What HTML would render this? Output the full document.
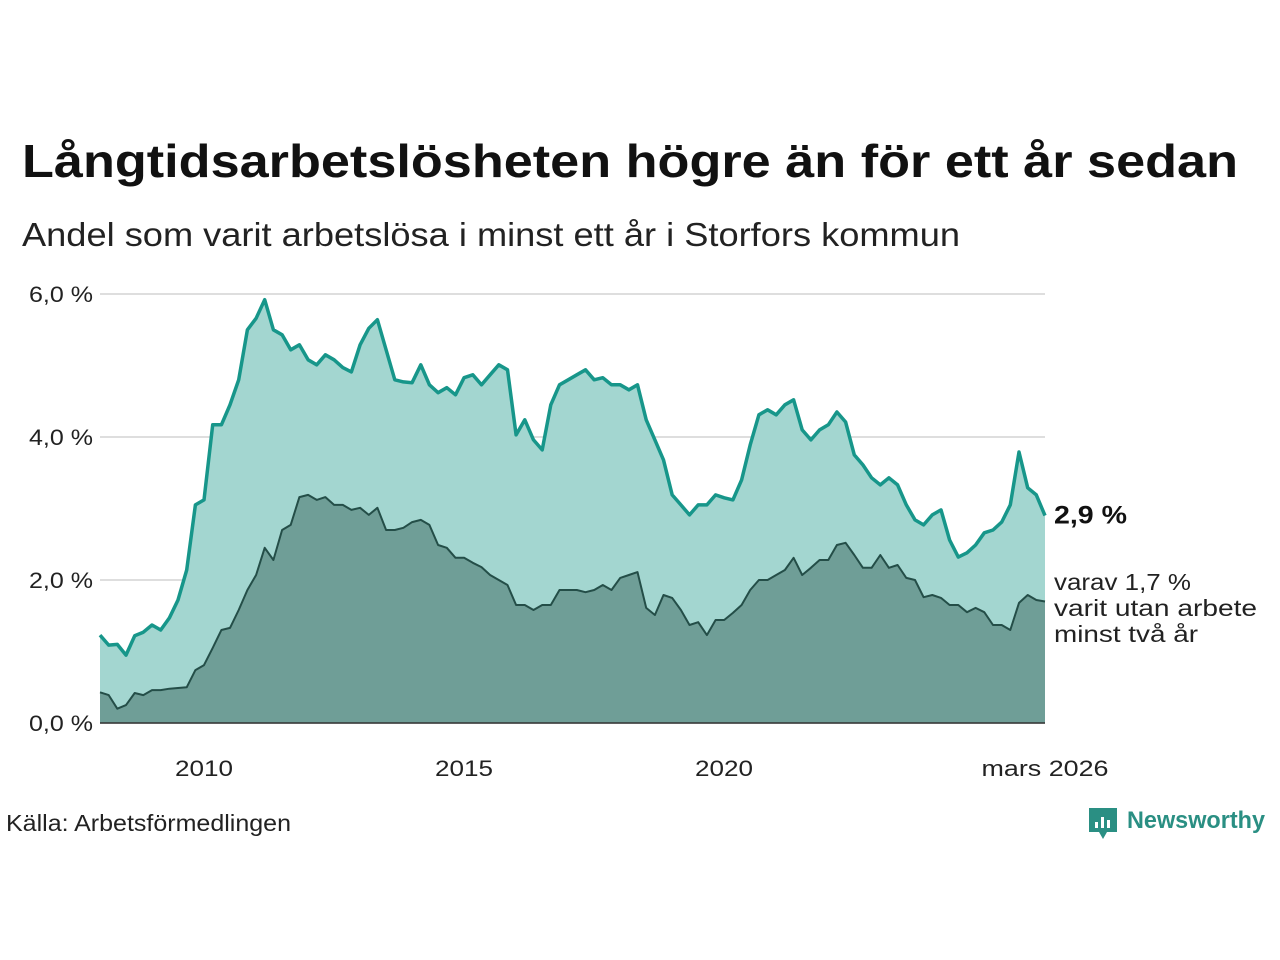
<!DOCTYPE html>
<html><head><meta charset="utf-8"><style>
body{margin:0;background:#fff;font-family:"Liberation Sans",sans-serif;}
svg{display:block}
</style></head><body>
<svg width="1280" height="960">
<text x="22" y="177" font-size="46" font-weight="bold" fill="#111" textLength="1216" lengthAdjust="spacingAndGlyphs">Långtidsarbetslösheten högre än för ett år sedan</text>
<text x="22" y="246" font-size="33" fill="#222" textLength="938" lengthAdjust="spacingAndGlyphs">Andel som varit arbetslösa i minst ett år i Storfors kommun</text>
<g id="grid"></g>
<g id="areas"></g>
<g id="labels"></g>
<text x="6" y="831" font-size="23" fill="#222" textLength="285" lengthAdjust="spacingAndGlyphs">Källa: Arbetsförmedlingen</text>
<g>
<path d="M1089 808 h28 v24 h-10 l-4 7 l-4 -7 h-10 z" fill="#2a8f83"/>
<rect x="1095" y="822" width="3" height="6" fill="#fff"/><rect x="1101" y="817" width="3" height="11" fill="#fff"/><rect x="1107" y="820" width="3" height="8" fill="#fff"/>
<text x="1127" y="828" font-size="24" font-weight="bold" fill="#2a8f83" textLength="138" lengthAdjust="spacingAndGlyphs">Newsworthy</text>
</g>
</svg>
<script>
const startYear = 2008;
const stepMonths = 2;
const total = [1.23,1.09,1.1,0.95,1.22,1.27,1.37,1.30,1.47,1.72,2.14,3.05,3.12,4.17,4.17,4.45,4.80,5.50,5.66,5.92,5.50,5.43,5.22,5.29,5.08,5.01,5.15,5.08,4.97,4.91,5.29,5.52,5.64,5.22,4.80,4.77,4.76,5.01,4.73,4.62,4.69,4.59,4.83,4.87,4.73,4.87,5.01,4.94,4.03,4.24,3.96,3.82,4.45,4.73,4.80,4.87,4.94,4.80,4.83,4.73,4.73,4.66,4.73,4.24,3.96,3.68,3.19,3.05,2.91,3.05,3.05,3.19,3.15,3.12,3.40,3.89,4.31,4.38,4.31,4.45,4.52,4.10,3.96,4.10,4.17,4.35,4.21,3.75,3.61,3.43,3.33,3.43,3.33,3.05,2.84,2.77,2.91,2.98,2.56,2.32,2.38,2.49,2.66,2.70,2.81,3.05,3.79,3.29,3.19,2.9];
const twoYears = [0.43,0.39,0.2,0.25,0.42,0.39,0.46,0.46,0.48,0.49,0.5,0.74,0.81,1.05,1.30,1.33,1.58,1.86,2.07,2.45,2.28,2.70,2.77,3.16,3.19,3.12,3.16,3.05,3.05,2.98,3.01,2.91,3.01,2.70,2.70,2.73,2.81,2.84,2.77,2.49,2.45,2.31,2.31,2.24,2.18,2.07,2.0,1.93,1.65,1.65,1.58,1.65,1.65,1.86,1.86,1.86,1.83,1.86,1.93,1.86,2.03,2.07,2.11,1.61,1.51,1.79,1.75,1.58,1.37,1.41,1.23,1.44,1.44,1.54,1.65,1.86,2.0,2.0,2.07,2.14,2.31,2.07,2.17,2.28,2.28,2.49,2.52,2.35,2.17,2.17,2.35,2.17,2.21,2.03,2.0,1.76,1.79,1.75,1.65,1.65,1.55,1.61,1.55,1.37,1.37,1.30,1.68,1.79,1.72,1.7];
const yTicks = [0,2,4,6];
const yTickLabels = ["0,0 %","2,0 %","4,0 %","6,0 %"];
const xTicks = [2010,2015,2020];
const xTickLabels = ["2010","2015","2020"];
const endLabel = "mars 2026";

const NS="http://www.w3.org/2000/svg";
const X0=100,X1=1045,Y0=723,YPX=71.5;
const n=total.length;
const xDate=t=>X0+(t-startYear)*52;
const xIdx=i=>X0+(X1-X0)*i/(n-1);
const y=v=>Y0-v*YPX;
function mk(tag,attrs,parent){const e=document.createElementNS(NS,tag);for(const k in attrs)e.setAttribute(k,attrs[k]);document.getElementById(parent).appendChild(e);return e;}
yTicks.forEach((v,i)=>{
  const l=mk('line',{x1:X0,x2:X1,y1:y(v),y2:y(v),stroke:'#dedede','stroke-width':2},'grid');
  
  
  const t=mk('text',{x:93,y:y(v)+8,'font-size':22,'text-anchor':'end',fill:'#222',textLength:64,lengthAdjust:'spacingAndGlyphs'},'labels');
  t.textContent=yTickLabels[i];
  
  
});
xTicks.forEach((v,i)=>{
  const t=mk('text',{x:xDate(v),y:776,'font-size':22,'text-anchor':'middle',fill:'#222',textLength:58,lengthAdjust:'spacingAndGlyphs'},'labels');
  t.textContent=xTickLabels[i];
  
  
});
const te=mk('text',{x:X1,y:776,'font-size':22,'text-anchor':'middle',fill:'#222',textLength:127,lengthAdjust:'spacingAndGlyphs'},'labels');
te.textContent=endLabel;


function pts(arr){return arr.map((v,i)=>xIdx(i).toFixed(1)+','+y(v).toFixed(1));}
function area(arr,fill,stroke,sw,name){
  const p=pts(arr);
  const a=mk('polygon',{points:X0+','+Y0+' '+p.join(' ')+' '+X1+','+Y0,fill:fill},'areas');
  
  
  const l=mk('polyline',{points:p.join(' '),fill:'none',stroke:stroke,'stroke-width':sw,'stroke-linejoin':'round'},'areas');
  
  
}
area(total,'#a3d6d0','#17968a',3.5,'total-series');
area(twoYears,'#6f9e97','#244e48',2,'two-year-series');
const bl=mk('line',{x1:X0,x2:X1,y1:Y0,y2:Y0,stroke:'#333','stroke-width':1.5},'areas');


const last=total[n-1], last2=twoYears[n-1];
const l1=mk('text',{x:1054,y:y(last)+8,'font-size':25,'font-weight':'bold',fill:'#111',textLength:73,lengthAdjust:'spacingAndGlyphs'},'labels');
l1.textContent=last.toFixed(1).replace('.',',')+' %';


const lines=['varav '+last2.toFixed(1).replace('.',',')+' %','varit utan arbete','minst två år'];
const lens=[137,203,144];
lines.forEach((s,i)=>{
  const t=mk('text',{x:1054,y:590+i*26,'font-size':23,fill:'#222',textLength:lens[i],lengthAdjust:'spacingAndGlyphs'},'labels');
  t.textContent=s;
  
  
});
</script>
</body></html>
